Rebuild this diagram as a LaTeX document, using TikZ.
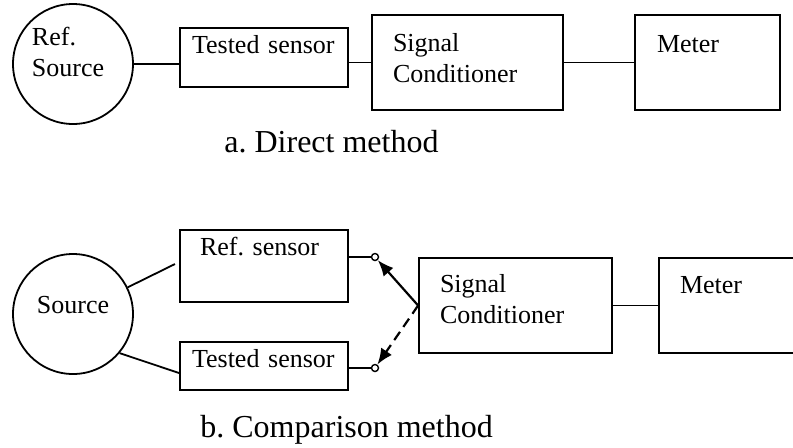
\documentclass[tikz,border=0pt]{standalone}
\usepackage{fontspec}
\setmainfont{Liberation Serif}
\usetikzlibrary{arrows.meta,positioning}
\frenchspacing

\begin{document}
\begin{tikzpicture}[x=0.5pt, y=-0.5pt, font=\fontsize{13}{15.5}\selectfont,
box/.style={draw, line width=0.9pt, inner ysep=0pt, align=left},
src/.style={draw, circle, line width=0.9pt, inner sep=0pt, minimum size=60pt, align=left},
term/.style={draw, circle, fill=white, line width=0.7pt, inner sep=0pt, minimum size=3.5pt},
wire/.style={line width=0.9pt},
arrow/.style={-{Latex[length=8pt,width=6.5pt]}, line width=1.1pt},
legend/.style={font=\fontsize{16}{19}\selectfont, inner sep=0pt, anchor=base west}]
\useasboundingbox (0,0) rectangle (793,447);
% a. direct method
\node[src, text width=41pt, text height=6pt, text depth=25pt] (refsrc) at (73,64) {Ref.\\Source};
\node[box, inner xsep=6pt, text width=72pt, text height=12.5pt, text depth=17pt] (tested1) at (264,57.5) {Tested sensor};
\node[box, inner xsep=10.5pt, text width=74.5pt, text height=18pt, text depth=29.5pt] (cond1) at (467.5,62.5) {Signal\\Conditioner};
\node[box, inner xsep=11pt, text width=50.5pt, text height=18.5pt, text depth=29pt] (meter1) at (707.5,62.5) {Meter};
\draw[wire] (refsrc.east) -- (refsrc.east -| tested1.west);
\draw[wire] (tested1.east |- cond1) -- (cond1.west);
\draw[wire] (cond1) -- (meter1);
\node[legend] (capa) at (224,152) {a.\ Direct method};
% b. comparison method
\node[src, text height=8pt, text depth=9pt] (src) at (73,314) {Source};
\node[box, inner xsep=10pt, text width=64pt, text height=12.5pt, text depth=23.5pt] (refsens) at (264,266) {Ref.\ sensor};
\node[box, inner xsep=6pt, text width=72pt, text height=12.5pt, text depth=11.5pt] (tested2) at (264,366) {Tested sensor};
\node[box, inner xsep=10.5pt, text width=75.5pt, text height=17pt, text depth=30.5pt] (cond2) at (515.5,305.5) {Signal\\Conditioner};
\node[box, inner xsep=10.5pt, text width=49.5pt, text height=17.5pt, text depth=30pt] (meter2) at (729.5,305.5) {Meter};
\node[term] (t1) at (375,257) {};
\node[term] (t2) at (375,368) {};
\coordinate (refin) at (175,264);
\draw[wire] (src.26) -- (refin);
\draw[wire] (src.-40) -- ([yshift=-3.5pt]tested2.west);
\draw[wire] (refsens.east |- t1) -- (t1);
\draw[wire] (tested2.east |- t2) -- (t2);
\draw[wire] (cond2) -- (meter2);
\draw[arrow] (cond2.west) -- (t1);
\draw[arrow, dash pattern=on 5pt off 3pt] (cond2.west) -- (t2);
\node[legend] (capb) at (200,437) {b.\ Comparison method};
\end{tikzpicture}
\end{document}
